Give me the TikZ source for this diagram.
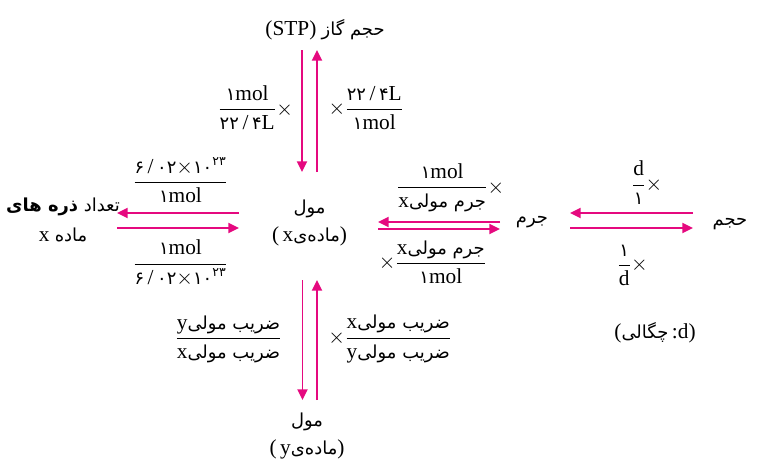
\RequirePackage{fix-cm}
\documentclass[tikz,border=0pt]{standalone}
\usepackage{amsmath}
\usepackage{fontspec}
\setmainfont{Liberation Serif}
\newfontfamily\arfont[Script=Arabic,Scale=0.84]{DejaVu Sans}
\TeXXeTstate=1
\usetikzlibrary{arrows.meta,calc}
\definecolor{cPink}{HTML}{E5097F}
\newcommand{\fa}[1]{{\arfont\beginR #1\endR}}
\newcommand{\fd}[1]{{\arfont #1}}
\newcommand{\fr}[2]{\genfrac{}{}{0.7pt}{0}{\text{#1}}{\text{#2}}}

\begin{document}
\begin{tikzpicture}[x=0.75pt,y=-0.75pt,font=\fontsize{16}{19}\selectfont,
  lbl/.style={inner sep=0pt,align=center},
  frc/.style={inner sep=0pt},
  arr/.style={cPink,line width=1.4pt,-{Triangle[length=8pt,width=7.5pt]}}]
\useasboundingbox (0,0) rectangle (757,468);

% quantities
\node[lbl] (top) at (325,30) {(STP)~\fa{حجم گاز}};
\node[lbl] (molx) at (309.5,223) {\fa{مول}\\[2pt](\,x\fa{ماده‌ی})};
\node[lbl] (moly) at (307,436) {\fa{مول}\\[2pt](\,y\fa{ماده‌ی})};
\node[lbl] (count) at (63,220) {\fa{تعداد \textbf{ذره های}}\\[4pt]x~\fa{ماده}};
\node[lbl] (mass) at (532,222) {\fa{جرم}};
\node[lbl] (vol) at (730,224) {\fa{حجم}};
\node[lbl] (dens) at (655,333) {(\fa{چگالی}\,:d)};

% conversion factors
\node[frc] (fStpL) at (255.5,108) {$\fr{\fd{۱}mol}{\fd{۲۲}\,/\,\fd{۴}L}\times$};
\node[frc] (fStpR) at (366,108) {$\times\fr{\fd{۲۲}\,/\,\fd{۴}L}{\fd{۱}mol}$};
\node[frc] (fAvoU) at (180.5,180)
  {$\fr{\fd{۶}\,/\,\fd{۰۲}$\times$\fd{۱۰}\textsuperscript{\fd{۲۳}}}{\fd{۱}mol}$};
\node[frc] (fAvoD) at (180.5,263)
  {$\fr{\fd{۱}mol}{\fd{۶}\,/\,\fd{۰۲}$\times$\fd{۱۰}\textsuperscript{\fd{۲۳}}}$};
\node[frc] (fMolU) at (450.5,188) {$\fr{\fd{۱}mol}{x\fa{جرم مولی}}\times$};
\node[frc] (fMolD) at (432.5,262) {$\times\fr{x\fa{جرم مولی}}{\fd{۱}mol}$};
\node[frc] (fDenU) at (647,183) {$\fr{d}{\fd{۱}}\times$};
\node[frc] (fDenD) at (632.5,265) {$\fr{\fd{۱}}{d}\times$};
\node[frc] (fCoL) at (228.5,339) {$\fr{y\fa{ضریب مولی}}{x\fa{ضریب مولی}}$};
\node[frc] (fCoR) at (390,339) {$\times\fr{x\fa{ضریب مولی}}{y\fa{ضریب مولی}}$};

% arrows
\draw[arr] ($(top)+(-23,20)$) -- ($(molx)+(-7.5,-51)$);
\draw[arr] ($(molx)+(7.5,-51)$) -- ($(top)+(-8,20)$);
\draw[arr] ($(molx)+(-7,57)$) -- ($(moly)+(-4.5,-36)$);
\draw[arr] ($(moly)+(10,-36)$) -- ($(molx)+(7.5,57)$);
\draw[arr] ($(molx)+(-70.5,-10)$) -- ($(count)+(54,-7)$);
\draw[arr] ($(count)+(54,8)$) -- ($(molx)+(-70.5,5)$);
\draw[arr] ($(mass)+(-32,0)$) -- ($(molx)+(68.5,-1)$);
\draw[arr] ($(molx)+(68.5,6)$) -- ($(mass)+(-32,7)$);
\draw[arr] ($(vol)+(-37,-11)$) -- ($(mass)+(38,-9)$);
\draw[arr] ($(mass)+(38,6)$) -- ($(vol)+(-37,4)$);
\end{tikzpicture}
\end{document}
